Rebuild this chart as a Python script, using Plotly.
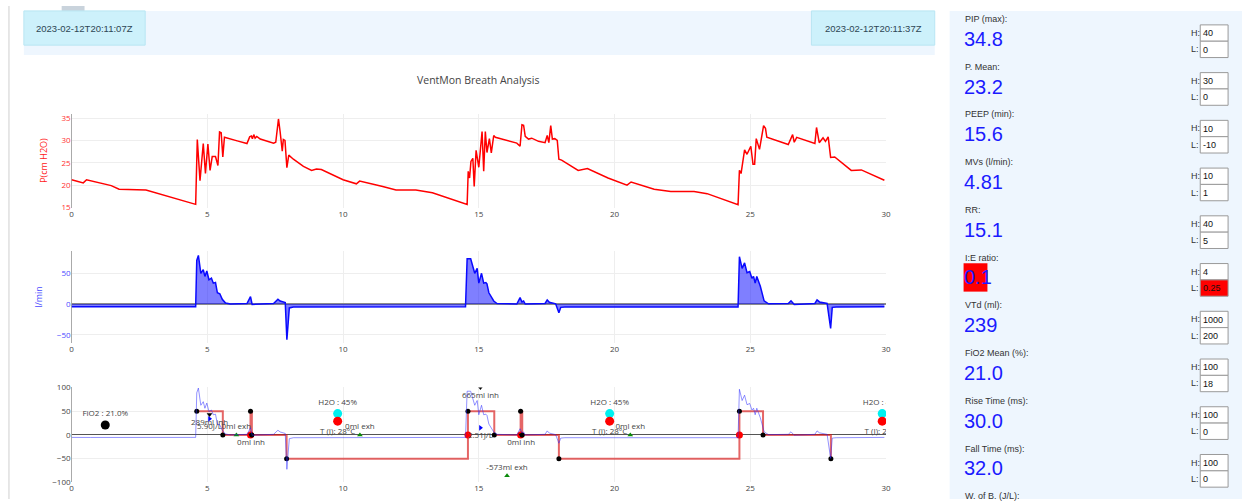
import plotly.graph_objects as go

W, H = 1247, 504

# ---------------- data ----------------
PRESSURE_T = [0, 0.43, 0.55, 1.46, 1.75, 2.74, 4.57,
              4.63, 4.73, 4.85, 4.93, 5.02, 5.1, 5.18, 5.3, 5.39, 5.45, 5.51, 5.57, 5.63,
              6.1, 6.46, 6.56, 6.62, 6.66, 6.71, 6.76, 6.82, 6.95, 7.44, 7.52, 7.62, 7.68,
              7.76, 7.8, 7.86, 7.93, 8.0, 8.17, 8.54, 8.84, 9.02, 9.2, 10.0, 10.49, 10.61,
              11.46, 11.95, 12.68, 13.29, 14.57,
              14.61, 14.66, 14.71, 14.78, 14.83, 14.9, 14.96, 15.0, 15.12, 15.18, 15.24,
              15.3, 15.39, 15.46, 15.55, 15.61, 16.4, 16.52, 16.59, 16.65, 16.71, 16.83,
              16.95, 17.2, 17.44, 17.52, 17.58, 17.65, 17.71, 17.8, 17.89, 17.95, 18.05,
              18.66, 19.0, 19.76, 20.46, 20.61, 21.46, 22.07, 22.93, 23.41, 24.55,
              24.6, 24.66, 24.79, 24.88, 25.02, 25.1, 25.16, 25.22, 25.34, 25.49, 25.56,
              25.61, 26.4, 26.56, 26.62, 26.71, 27.2, 27.38, 27.44, 27.54, 27.68, 27.77,
              27.87, 27.96, 28.11, 28.72, 29.09, 29.94]
PRESSURE_V = [21.2, 20.5, 21.2, 19.9, 19.1, 18.9, 15.7,
              30.2, 21.0, 29.3, 22.6, 29.2, 23.3, 26.4, 26.4, 24.4, 31.9, 31.7, 26.3, 30.7,
              29.9, 29.3, 30.8, 31.0, 30.4, 31.3, 30.5, 30.9, 30.3, 29.4, 29.6, 34.8, 32.0,
              27.6, 30.2, 30.0, 23.9, 26.7, 25.8, 24.2, 23.3, 23.6, 23.5, 21.2, 20.3, 20.9,
              19.7, 18.9, 18.9, 18.3, 15.7,
              23.1, 21.6, 25.3, 26.0, 19.7, 27.8, 25.0, 24.0, 32.0, 23.1, 32.0,
              27.3, 30.4, 27.2, 31.1, 30.7, 29.4, 28.7, 33.5, 33.4, 30.9, 30.3,
              30.5, 29.8, 29.5, 31.1, 29.5, 33.3, 30.3, 30.4, 30.0, 25.8, 25.6,
              23.3, 23.7, 21.6, 20.0, 20.7, 19.1, 18.6, 18.6, 18.1, 15.6,
              23.3, 22.6, 27.9, 26.9, 28.7, 24.7, 24.7, 30.4, 28.0, 33.3, 32.7,
              30.7, 29.1, 31.3, 29.6, 30.7, 29.8, 29.3, 32.9, 29.5, 30.6, 29.8,
              30.8, 26.2, 26.3, 23.3, 23.4, 21.1]

FLOW_T = [0, 0.55, 0.7, 4.57,
          4.61, 4.67, 4.76, 4.85, 4.91, 4.98, 5.06, 5.15, 5.22, 5.3, 5.37, 5.46, 5.55, 5.67,
          5.85, 6.46, 6.59, 6.65, 7.44, 7.6, 7.68, 7.87, 7.93, 8.02, 8.17, 14.51,
          14.57, 14.7, 14.78, 14.85, 14.94, 15.0, 15.1, 15.18, 15.26, 15.3, 15.37, 15.45,
          15.55, 15.67, 16.4, 16.52, 16.59, 16.65, 16.71, 17.44, 17.52, 17.6, 17.83,
          17.95, 18.02, 18.17, 24.55,
          24.6, 24.7, 24.79, 24.88, 24.98, 25.06, 25.12, 25.18, 25.24, 25.37, 25.51,
          25.67, 26.4, 26.5, 26.62, 27.38, 27.46, 27.55, 27.83, 27.96, 28.02, 28.17, 29.94]
FLOW_V = [-4.2, -4.7, -4.3, -4.2,
          71, 79, 50, 56, 45, 53.7, 39.5, 42, 34, 35, 18.4, 16.8, 7.9, 1.6,
          0, 1, 12, -0.5, 1, 8, 5, 2.5, -58, -6.3, -4.7, -4.2,
          73.7, 73.7, 60, 50, 58, 34, 50, 34, 35, 33, 18.4, 12,
          5, 1, 0, 10.5, 3.5, 5, 0, 1, 6.8, 3, 0.5,
          -14, -5.3, -4.7, -4.7,
          77, 58, 67, 51, 53, 42, 45, 34, 45, 29, 5.3,
          0.5, 1, 5.3, -0.5, 1, 6.8, 3.5, 1, -39.5, -5.3, -4.7, -4.2]

# breath phase square wave (plot 3)
PHASE_T = [4.61, 5.57, 6.59, 6.64, 7.92, 14.6, 15.57, 16.54, 16.6, 17.95, 24.6, 25.47, 27.97]
PHASE_V = [50, 0, 50, 0, -50, 50, 0, 50, 0, -50, 50, 0, -50]
TRIGGER_T = [6.59, 14.6, 16.54, 24.6]
TRIGGER_V = [0, 0, 0, 0]

FIO2_T, FIO2_V, FIO2_TEXT = [1.24], [21], ["FiO2 : 21.0%"]
H2O_T = [9.8, 19.82, 29.86]
H2O_V = [45, 45, 45]
H2O_TEXT = ["H2O : 45%", "H2O : 45%", "H2O : 45%"]
TEMP_V = [29, 29, 29]
TEMP_TEXT = ["T (I): 28°C", "T (I): 28°C", "T (I): 28°C"]

INH_T = [5.08, 6.61, 15.06, 16.56]
INH_V = [43, 0, 100, 0]
INH_TEXT = ["289ml inh", "0ml inh", "665ml inh", "0ml inh"]
EXH_T = [6.07, 10.62, 16.04, 20.58]
EXH_V = [0, 0, -86, 0]
EXH_TEXT = ["0ml exh", "0ml exh", "-573ml exh", "0ml exh"]
WOB_T = [5.08, 15.06]
WOB_V = [34, 15]
WOB_TEXT = ["5.90J/L", "2.51J/L"]

X_TICKS = [0, 5, 10, 15, 20, 25, 30]

# right panel
METRIC_LABELS = ["PIP (max):", "P. Mean:", "PEEP (min):", "MVs (l/min):", "RR:", "I:E ratio:",
                 "VTd (ml):", "FiO2 Mean (%):", "Rise Time (ms):", "Fall Time (ms):"]
METRIC_VALUES = ["34.8", "23.2", "15.6", "4.81", "15.1", "0.1", "239", "21.0", "30.0", "32.0"]
HIGH_LIMITS = ["40", "30", "10", "10", "40", "4", "1000", "100", "100", "100"]
LOW_LIMITS = ["0", "0", "-10", "1", "5", "0.25", "200", "18", "0", "0"]
VALUE_ALARM = [False, False, False, False, False, True, False, False, False, False]
LOW_ALARM = [False, False, False, False, False, True, False, False, False, False]
LAST_LABEL = "W. of B. (J/L):"

TIME_START = "2023-02-12T20:11:07Z"
TIME_END = "2023-02-12T20:11:37Z"
TITLE = "VentMon Breath Analysis"


def px(x):
    return x / W


def py(y):
    return 1 - y / H


FONT = "Liberation Sans, Arial, sans-serif"
PLOT_FONT = "Open Sans, DejaVu Sans, sans-serif"

fig = go.Figure()

# plot 1: pressure
fig.add_trace(go.Scatter(x=PRESSURE_T, y=PRESSURE_V, mode="lines",
                         line=dict(color="#ff0000", width=1.5), xaxis="x", yaxis="y",
                         showlegend=False))
# plot 2: flow
fig.add_trace(go.Scatter(x=FLOW_T, y=FLOW_V, mode="lines", fill="tozeroy",
                         fillcolor="rgba(0,0,255,0.5)",
                         line=dict(color="#0a0aff", width=1.5), xaxis="x2", yaxis="y2",
                         showlegend=False))
# plot 3
fig.add_trace(go.Scatter(x=FLOW_T, y=FLOW_V, mode="lines",
                         line=dict(color="rgba(40,40,255,0.5)", width=1), xaxis="x3", yaxis="y4",
                         showlegend=False))
fig.add_trace(go.Scatter(x=PHASE_T, y=PHASE_V, mode="lines", line_shape="hv",
                         line=dict(color="rgba(215,20,20,0.65)", width=2), xaxis="x3", yaxis="y3",
                         showlegend=False))
TXT = dict(size=8, color="#444", family=PLOT_FONT)
fig.add_trace(go.Scatter(x=TRIGGER_T, y=TRIGGER_V, mode="markers",
                         marker=dict(color="#ff0000", size=7), xaxis="x3", yaxis="y3",
                         showlegend=False))
fig.add_trace(go.Scatter(x=PHASE_T, y=PHASE_V, mode="markers",
                         marker=dict(color="#000", size=5), xaxis="x3", yaxis="y3",
                         showlegend=False))
fig.add_trace(go.Scatter(x=FIO2_T, y=FIO2_V, mode="markers+text", text=FIO2_TEXT,
                         textposition="top center", textfont=TXT,
                         marker=dict(color="#000", size=9), xaxis="x3", yaxis="y3",
                         showlegend=False))
fig.add_trace(go.Scatter(x=H2O_T, y=H2O_V, mode="markers+text", text=H2O_TEXT,
                         textposition="top center", textfont=TXT,
                         marker=dict(color="#00f0f0", size=9), xaxis="x3", yaxis="y3",
                         showlegend=False))
fig.add_trace(go.Scatter(x=H2O_T, y=TEMP_V, mode="markers+text", text=TEMP_TEXT,
                         textposition="bottom center", textfont=TXT,
                         marker=dict(color="#ff0000", size=9), xaxis="x3", yaxis="y3",
                         showlegend=False))
fig.add_trace(go.Scatter(x=INH_T, y=INH_V, mode="markers+text", text=INH_TEXT,
                         textposition="bottom center", textfont=TXT,
                         marker=dict(color="#000", size=5, symbol="triangle-down"),
                         xaxis="x3", yaxis="y3", showlegend=False))
fig.add_trace(go.Scatter(x=EXH_T, y=EXH_V, mode="markers+text", text=EXH_TEXT,
                         textposition="top center", textfont=TXT,
                         marker=dict(color="#0a8a0a", size=5, symbol="triangle-up"),
                         xaxis="x3", yaxis="y3", showlegend=False))
fig.add_trace(go.Scatter(x=WOB_T, y=WOB_V, mode="markers+text", text=WOB_TEXT,
                         textposition="bottom center", textfont=TXT,
                         marker=dict(color="#0000ff", size=5, symbol="triangle-right"),
                         xaxis="x3", yaxis="y3", showlegend=False))

XDOM = [px(70), px(889)]
xcommon = dict(domain=XDOM, range=[0, 30], tickvals=X_TICKS, gridcolor="#eeeeee",
               zeroline=True, zerolinecolor="#aaaaaa", zerolinewidth=1,
               tickfont=dict(size=8, color="#444", family=PLOT_FONT), ticks="", showline=False)

fig.update_layout(
    width=W, height=H, margin=dict(l=0, r=0, t=0, b=0),
    paper_bgcolor="white", plot_bgcolor="white", showlegend=False,
    font=dict(family=PLOT_FONT),
    xaxis=dict(anchor="y", **xcommon),
    xaxis2=dict(anchor="y2", **xcommon),
    xaxis3=dict(anchor="y3", **xcommon),
    yaxis=dict(domain=[py(206), py(110)], range=[15, 36], dtick=5, anchor="x",
               gridcolor="#eeeeee", zeroline=False,
               tickfont=dict(size=8, color="#ff3030"),
               title=dict(text="P(cm H2O)", font=dict(size=9, color="#ff2020"), standoff=12)),
    yaxis2=dict(domain=[py(345), py(250)], range=[-64, 87], dtick=50, anchor="x2",
                gridcolor="#eeeeee", zeroline=True, zerolinecolor="#8a8a8a", zerolinewidth=2,
                tickfont=dict(size=8, color="#4a4aff"),
                title=dict(text="l/min", font=dict(size=9, color="#4a4aff"), standoff=12)),
    yaxis3=dict(domain=[py(487), py(390)], range=[-100, 100], dtick=50, anchor="x3",
                gridcolor="#eeeeee", zeroline=True, zerolinecolor="#555", zerolinewidth=1,
                tickfont=dict(size=8, color="#444")),
    yaxis4=dict(domain=[py(487), py(390)], range=[-80, 80], anchor="x3", overlaying="y3",
                visible=False),
)

shapes = []
annotations = []

BG = "#eef6fe"
# left border line & small tab
shapes.append(dict(type="line", xref="paper", yref="paper", x0=px(7), x1=px(7), y0=0, y1=1,
                   line=dict(color="#cfcfcf", width=1), layer="below"))
shapes.append(dict(type="rect", xref="paper", yref="paper", x0=px(60), x1=px(83), y0=py(5),
                   y1=1, fillcolor="#c9d3dc", line=dict(width=0), layer="below"))
# top band
shapes.append(dict(type="rect", xref="paper", yref="paper", x0=px(22), x1=px(938), y0=py(50),
                   y1=py(5), fillcolor=BG, line=dict(width=0), layer="below"))
for (x0, x1, txt) in [(22, 144, TIME_START), (814, 938, TIME_END)]:
    shapes.append(dict(type="rect", xref="paper", yref="paper", x0=px(x0), x1=px(x1),
                       y0=py(40), y1=py(5), fillcolor="#cdf1fb",
                       line=dict(color="#b9e6f3", width=1), layer="below"))
    annotations.append(dict(xref="paper", yref="paper", x=px((x0 + x1) / 2), y=py(22.5),
                            text=txt, showarrow=False, xanchor="center", yanchor="middle",
                            font=dict(size=9.5, color="#2d4654", family=FONT)))
# chart title
annotations.append(dict(xref="paper", yref="paper", x=px(479), y=py(76), text=TITLE,
                        showarrow=False, xanchor="center", yanchor="middle",
                        font=dict(size=10.5, color="#444", family=PLOT_FONT)))

# right panel
shapes.append(dict(type="rect", xref="paper", yref="paper", x0=px(953), x1=1, y0=0, y1=py(5),
                   fillcolor=BG, line=dict(width=0), layer="below"))
STEP = 48.8
for i, (lab, val, hi, lo) in enumerate(zip(METRIC_LABELS, METRIC_VALUES, HIGH_LIMITS, LOW_LIMITS)):
    yl = 13.3 + STEP * i
    yv = 33.5 + STEP * i
    yb = 19.3 + STEP * i
    annotations.append(dict(xref="paper", yref="paper", x=px(966), y=py(yl), text=lab,
                            showarrow=False, xanchor="left", yanchor="middle",
                            font=dict(size=9, color="#333", family=FONT)))
    if VALUE_ALARM[i]:
        shapes.append(dict(type="rect", xref="paper", yref="paper", x0=px(967), x1=px(991),
                           y0=py(yv + 14.5), y1=py(yv - 14.5), fillcolor="#ff0000",
                           line=dict(width=0), layer="above"))
    annotations.append(dict(xref="paper", yref="paper", x=px(965), y=py(yv), text=val,
                            showarrow=False, xanchor="left", yanchor="middle",
                            font=dict(size=20, color="#1a1aff", family=FONT)))
    for j, (tag, v) in enumerate([("H:", hi), ("L:", lo)]):
        top = yb + 16.7 * j
        fill = "#ff0000" if (j == 1 and LOW_ALARM[i]) else "white"
        shapes.append(dict(type="rect", xref="paper", yref="paper", x0=px(1205), x1=px(1233),
                           y0=py(top + 16.7), y1=py(top), fillcolor=fill,
                           line=dict(color="#9a9a9a", width=1), layer="above"))
        annotations.append(dict(xref="paper", yref="paper", x=px(1194), y=py(top + 8.3),
                                text=tag, showarrow=False, xanchor="left", yanchor="middle",
                                font=dict(size=9, color="#333", family=FONT)))
        annotations.append(dict(xref="paper", yref="paper", x=px(1206), y=py(top + 8.6),
                                text=v, showarrow=False, xanchor="left", yanchor="middle",
                                font=dict(size=9, color="#111", family=FONT)))
annotations.append(dict(xref="paper", yref="paper", x=px(966), y=py(13.3 + STEP * 10),
                        text=LAST_LABEL, showarrow=False, xanchor="left", yanchor="middle",
                        font=dict(size=9, color="#333", family=FONT)))

fig.update_layout(shapes=shapes, annotations=annotations)
fig.write_html(
    "out.html",
    config={"displayModeBar": False},
    post_script=("document.body.style.margin='0';document.body.style.padding='0';"
                 "document.body.style.overflow='hidden';"
                 "document.documentElement.style.overflow='hidden';"),
)
